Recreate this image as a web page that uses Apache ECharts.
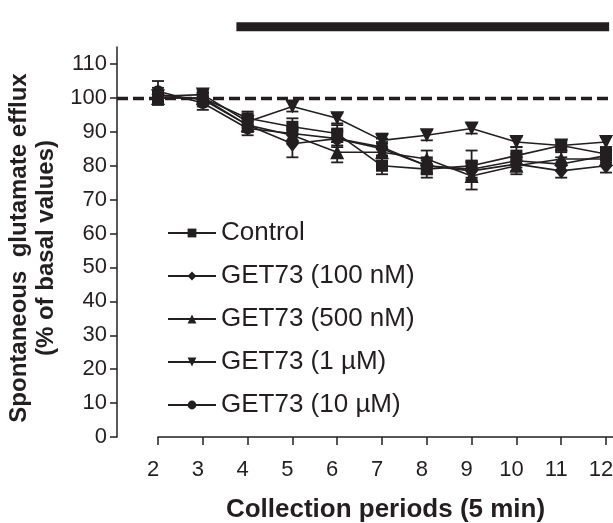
<!DOCTYPE html>
<html>
<head>
<meta charset="utf-8">
<script src="https://cdn.jsdelivr.net/npm/echarts@6.0.0/dist/echarts.min.js"></script>
<style>
html, body { margin: 0; padding: 0; background: #fff; }
#container { width: 613px; height: 523px; }
</style>
</head>
<body>
<div id="container"></div>
<script>
var ink = '#231f20';
var font = "'Liberation Sans', Arial, sans-serif";

// collection periods (5 min each)
var periods = [2, 3, 4, 5, 6, 7, 8, 9, 10, 11, 12];
var yTicks = [0, 10, 20, 30, 40, 50, 60, 70, 80, 90, 100, 110];
var basal = 100;
// drug application bar (period start, period end)
var treatment = [3.75, 12.07];
var barLevel = 121;

var names = ['Control', 'GET73 (100 nM)', 'GET73 (500 nM)', 'GET73 (1 µM)', 'GET73 (10 µM)'];

var control     = [100, 100, 94, 91.5, 89.5, 80, 79, 80, 83, 86, 83.5];
var controlErr  = [2, 2, 2, 2.5, 2.5, 2.5, 2.5, 4.5, 2.5, 1.5, 2];
var get100n     = [101, 99.5, 92, 86.5, 88, 85, 80, 78.5, 80.5, 78.5, 80];
var get100nErr  = [2, 2, 2, 4, 2.5, 2, 2.5, 2.5, 2, 2, 2];
var get500n     = [100, 100, 92, 89, 84, 84, 82, 77, 80, 82, 82];
var get500nErr  = [2, 1.5, 2, 2, 3, 2.5, 2.5, 4, 2.5, 2, 2];
var get1u       = [100.5, 101, 93, 97.5, 94, 87.5, 89, 91, 87, 86, 87];
var get1uErr    = [1.5, 1.5, 1.5, 1.5, 1.5, 2, 1.5, 1.5, 1.5, 1.5, 1.5];
var get10u      = [102, 98.5, 91, 89.5, 88, 85.5, 80, 79, 81.5, 80.5, 83];
var get10uErr   = [3, 2, 2, 2, 2, 2.5, 2, 2.5, 2, 2, 2];

var groups = [
    { means: control, errs: controlErr, symbol: 'rect', size: 12, rotate: 0 },
    { means: get100n, errs: get100nErr, symbol: 'diamond', size: [13, 16], rotate: 0 },
    { means: get500n, errs: get500nErr, symbol: 'triangle', size: 14, rotate: 0 },
    { means: get1u, errs: get1uErr, symbol: 'triangle', size: 14, rotate: 180 },
    { means: get10u, errs: get10uErr, symbol: 'circle', size: 12, rotate: 0 }
];

var dom = document.getElementById('container');
var myChart = echarts.init(dom, null, { renderer: 'canvas' });

var seriesList = [];

// basal reference line
seriesList.push({
    type: 'line',
    xAxisIndex: 0,
    yAxisIndex: 0,
    data: [],
    silent: true,
    markLine: {
        silent: true,
        symbol: ['none', 'none'],
        label: { show: false },
        lineStyle: { color: ink, width: 3.3, type: [11, 5] },
        data: [{ yAxis: basal }]
    }
});

// treatment bar on top
seriesList.push({
    type: 'line',
    xAxisIndex: 1,
    yAxisIndex: 1,
    symbol: 'none',
    silent: true,
    data: treatment.map(function (x) { return [x, barLevel]; }),
    lineStyle: { color: ink, width: 9, cap: 'butt' }
});

groups.forEach(function (g, k) {
    seriesList.push({
        type: 'custom',
        name: names[k] + ' err',
        xAxisIndex: 1,
        yAxisIndex: 1,
        z: 2,
        silent: true,
        data: periods.map(function (p, i) {
            return [p, g.means[i] - g.errs[i], g.means[i] + g.errs[i]];
        }),
        encode: { x: 0, y: [1, 2] },
        renderItem: function (params, api) {
            var x = api.value(0);
            var lo = api.coord([x, api.value(1)]);
            var hi = api.coord([x, api.value(2)]);
            var w = 6;
            var st = { stroke: ink, lineWidth: 1.8 };
            return {
                type: 'group',
                children: [
                    { type: 'line', shape: { x1: lo[0], y1: lo[1], x2: hi[0], y2: hi[1] }, style: st },
                    { type: 'line', shape: { x1: lo[0] - w, y1: lo[1], x2: lo[0] + w, y2: lo[1] }, style: st },
                    { type: 'line', shape: { x1: hi[0] - w, y1: hi[1], x2: hi[0] + w, y2: hi[1] }, style: st }
                ]
            };
        }
    });
});

groups.forEach(function (g, k) {
    seriesList.push({
        type: 'line',
        name: names[k],
        xAxisIndex: 1,
        yAxisIndex: 1,
        z: 3,
        symbol: g.symbol,
        symbolSize: g.size,
        symbolRotate: g.rotate,
        showAllSymbol: true,
        data: periods.map(function (p, i) { return [p, g.means[i]]; }),
        itemStyle: { color: ink, opacity: 1 },
        lineStyle: { color: ink, width: 1.6 }
    });
});

var option = {
    animation: false,
    backgroundColor: '#fff',
    textStyle: { fontFamily: font, color: ink },
    grid: [
        { left: 117, right: 0, top: 47, bottom: 86, outerBoundsMode: 'none', containLabel: false },
        { left: 158, right: 0, top: 20, bottom: 86, outerBoundsMode: 'none', containLabel: false }
    ],
    legend: {
        data: names,
        orient: 'vertical',
        left: 167,
        top: 220,
        padding: 0,
        itemWidth: 48,
        itemHeight: 11,
        itemGap: 17,
        selectedMode: false,
        textStyle: { fontFamily: font, fontSize: 26, color: ink, lineHeight: 26 }
    },
    xAxis: [{
        gridIndex: 0,
        type: 'value',
        min: 0,
        max: 1,
        show: false
    }, {
        gridIndex: 1,
        type: 'value',
        min: 2,
        max: 12.156,
        offset: 6,
        name: 'Collection periods (5 min)',
        nameLocation: 'middle',
        nameGap: 54,
        nameTextStyle: { fontFamily: font, fontSize: 26, fontWeight: 'bold', color: ink },
        axisLine: { show: true, lineStyle: { color: ink, width: 1.5 } },
        axisTick: { show: true, length: 8, customValues: periods, lineStyle: { color: ink, width: 1.5 } },
        axisLabel: { customValues: periods, fontSize: 22, color: ink, margin: 16, padding: [0, 10, 0, 0], fontFamily: font },
        splitLine: { show: false }
    }],
    yAxis: [{
        gridIndex: 0,
        type: 'value',
        min: 0,
        max: 115,
        interval: 10,
        name: 'Spontaneous  glutamate efflux\n(% of basal values)',
        nameLocation: 'middle',
        nameGap: 44,
        nameTextStyle: { fontFamily: font, fontSize: 24, fontWeight: 'bold', color: ink, lineHeight: 27, padding: [0, 12, 0, 0] },
        axisLine: { show: true, lineStyle: { color: ink, width: 1.5 } },
        axisTick: { show: true, length: 7, customValues: yTicks, lineStyle: { color: ink, width: 1.5 } },
        axisLabel: { customValues: yTicks, fontSize: 22, color: ink, margin: 10, fontFamily: font },
        splitLine: { show: false }
    }, {
        gridIndex: 1,
        type: 'value',
        min: 0,
        max: 123,
        show: false
    }],
    series: seriesList
};

myChart.setOption(option);
</script>
</body>
</html>
